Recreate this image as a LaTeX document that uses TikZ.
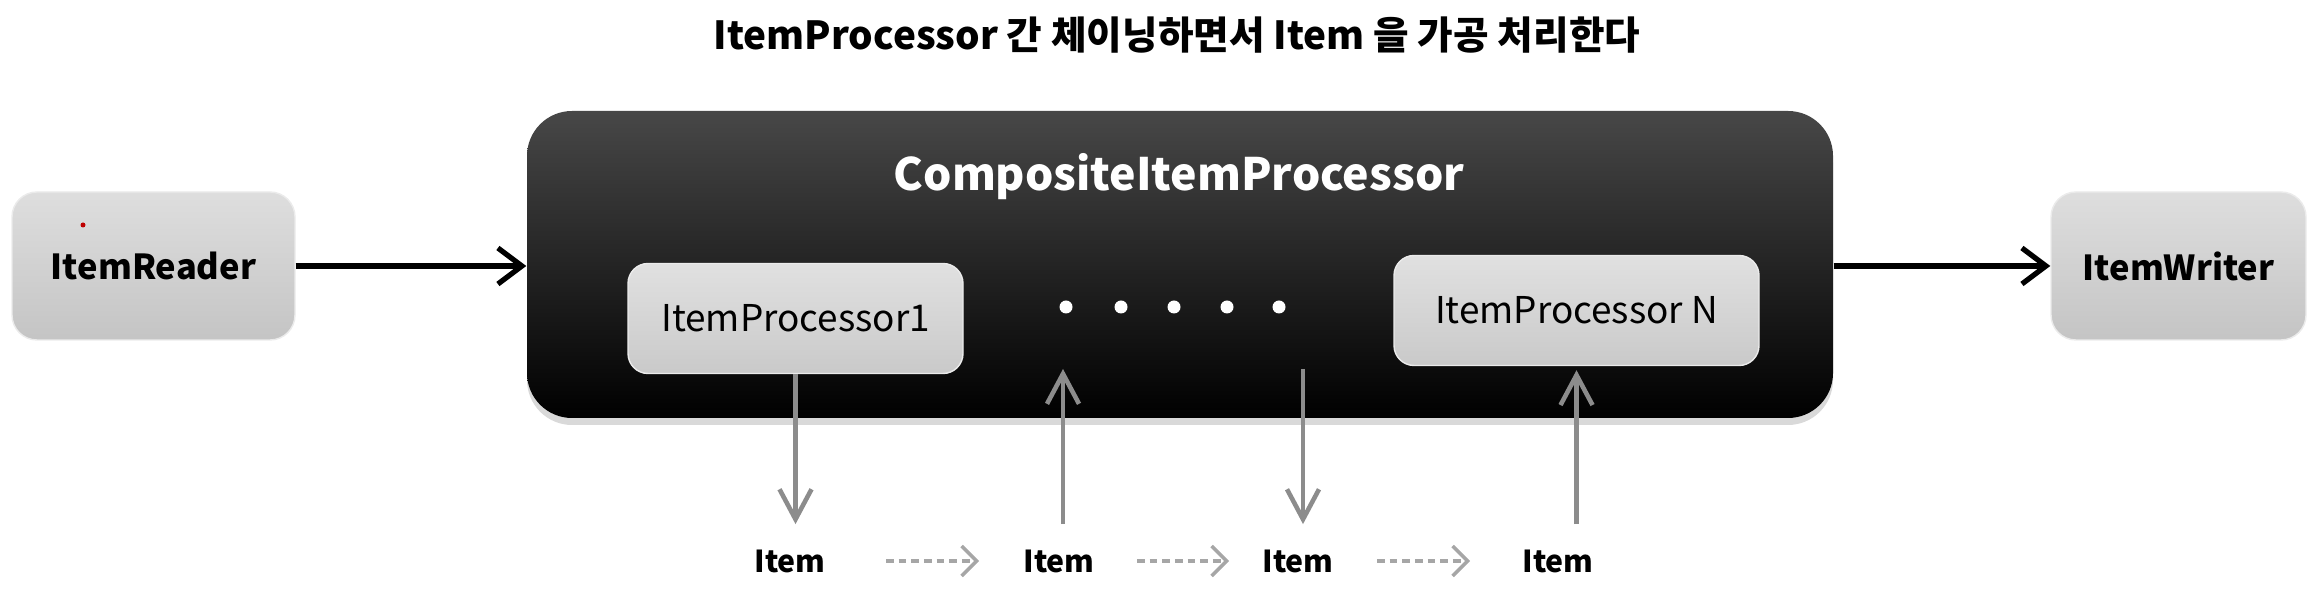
\documentclass[tikz,border=0pt]{standalone}
\usepackage{fontspec}
\setmainfont{Noto Sans CJK KR}
\usetikzlibrary{arrows.meta,shadows}

\tikzset{
  endbox/.style={rounded corners=0.25cm, top color=black!13, bottom color=black!23,
    draw=black!8, minimum height=1.48cm, font=\fontsize{9.8}{12}\selectfont\bfseries},
  procbox/.style={rounded corners=0.2cm, top color=black!12, bottom color=black!21,
    draw=black!8, minimum height=1.1cm, font=\fontsize{10.5}{12}\selectfont},
  composite/.style={rounded corners=0.45cm, top color=black!72, middle color=black,
    bottom color=black, drop shadow={opacity=0.3, shadow xshift=0pt, shadow yshift=-0.7mm}},
  itemlabel/.style={font=\fontsize{8.6}{10}\selectfont\bfseries},
  flowarrow/.style={line width=1.5pt, -{Straight Barb[length=2.4mm,width=3.6mm]}},
  passarrow/.style={black!45, line width=1.3pt, -{Straight Barb[length=3mm,width=3.2mm]}},
  nextarrow/.style={black!35, line width=1pt, dash pattern=on 2.2pt off 1.4pt,
    -{Straight Barb[length=1.5mm,width=3mm]}},
}

\begin{document}
\begin{tikzpicture}
\useasboundingbox (0,0) rectangle (23.16,5.98);

%% title
\node[font=\fontsize{11}{13}\selectfont\bfseries] (title) at (11.77,5.63)
  {ItemProcessor 간 체이닝하면서 Item 을 가공 처리한다};

%% composite processor
\node[composite, minimum width=13.06cm, minimum height=3.07cm] (comp) at (11.80,3.335) {};
\node[text=white, font=\fontsize{12.7}{15}\selectfont\bfseries] (comptitle) at (11.79,4.21)
  {CompositeItemProcessor};

%% reader and writer
\node[endbox, minimum width=2.83cm] (reader) at (1.535,3.32) {ItemReader};
\node[endbox, minimum width=2.55cm] (writer) at (21.785,3.32) {ItemWriter};
\fill[red!75!black] (0.83,3.73) circle (0.025);

%% processors
\node[procbox, minimum width=3.35cm] (proc1) at (7.955,2.795) {ItemProcessor1};
\node[procbox, minimum width=3.65cm] (procN) at (15.765,2.875) {ItemProcessor N};

%% dots
\foreach \x [count=\i] in {10.66,11.21,11.74,12.27,12.79}
  \node[circle, fill=white, inner sep=0pt, minimum size=0.13cm] (dot\i) at (\x,2.91) {};

%% items
\node[itemlabel] (item1) at (7.90,0.37) {Item};
\node[itemlabel] (item2) at (10.59,0.37) {Item};
\node[itemlabel] (item3) at (12.98,0.37) {Item};
\node[itemlabel] (item4) at (15.58,0.37) {Item};

%% ends inside the composite box
\coordinate (in2) at (10.63,2.29);
\coordinate (out3) at (13.03,2.29);

%% main flow
\draw[flowarrow] (reader.east) -- (reader.east -| comp.west);
\draw[flowarrow] (comp.east |- writer.west) -- (writer.west);

%% item passing
\draw[passarrow, shorten >=1.3mm] (proc1.south) -- (proc1.south |- item1.north);
\draw[passarrow, shorten <=1.3mm] (in2 |- item2.north) -- (in2);
\draw[passarrow, shorten >=1.3mm] (out3) -- (out3 |- item3.north);
\draw[passarrow, shorten <=1.3mm, shorten >=0.4mm] (procN.south |- item4.north) -- (procN.south);

%% item chain
\draw[nextarrow, shorten <=9.6mm, shorten >=8mm] (item1.center) -- (item2.center);
\draw[nextarrow, shorten <=7.8mm, shorten >=6.9mm] (item2.center) -- (item3.center);
\draw[nextarrow, shorten <=7.9mm, shorten >=8.8mm] (item3.center) -- (item4.center);
\end{tikzpicture}
\end{document}
